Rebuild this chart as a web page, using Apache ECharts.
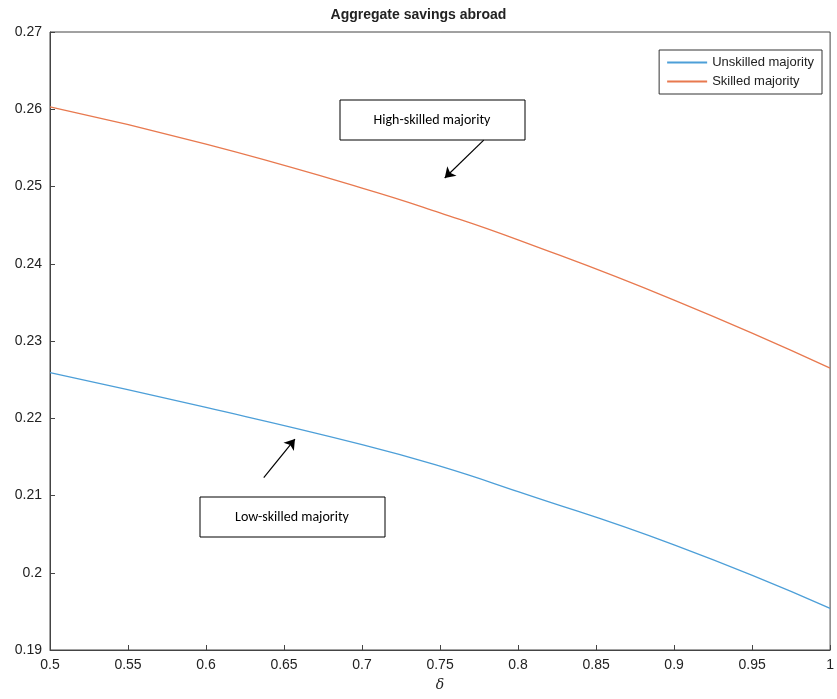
<!DOCTYPE html><html><head><meta charset="utf-8"><script src="https://cdn.jsdelivr.net/npm/echarts@6/dist/echarts.min.js"></script></head><body style="margin:0"><div id="c" style="width:837px;height:699px"></div><script>
const delta=[0.5,0.6,0.7,0.75,0.8,0.9,1.0];
const unskilled=[0.2259,0.2214,0.2166,0.2138,0.2105,0.2036,0.1954];
const skilled=[0.2603,0.2555,0.2498,0.2466,0.2431,0.2353,0.2265];
const ch=echarts.init(document.getElementById('c'));
const f='Liberation Sans';
const cB='#4d9fd8',cO='#e8794f';
ch.setOption({animation:false,
title:{text:'Aggregate savings abroad',left:'center',top:3,textStyle:{fontFamily:f,fontSize:14,fontWeight:'bold',color:'#222'}},
grid:{left:50,right:0,top:32,bottom:49,show:true,borderColor:'#444',borderWidth:1},
legend:{orient:'vertical',right:15,top:50,itemWidth:40,itemHeight:2,icon:'rect',borderColor:'#333',borderWidth:1,backgroundColor:'#fff',padding:[6,8],itemGap:6,textStyle:{fontFamily:f,fontSize:13,color:'#222'},data:['Unskilled majority','Skilled majority']},
xAxis:{type:'value',min:0.5,max:1,interval:0.05,name:'δ',nameLocation:'middle',nameGap:28,nameTextStyle:{fontFamily:'DejaVu Serif',fontStyle:'italic',fontSize:14,color:'#222'},axisLine:{lineStyle:{color:'#444'}},axisTick:{inside:true},splitLine:{show:false},axisLabel:{fontFamily:f,fontSize:14,color:'#222',formatter:v=>+v.toFixed(2)+''}},
yAxis:{type:'value',min:0.19,max:0.27,interval:0.01,axisLine:{show:true,lineStyle:{color:'#444'}},axisTick:{show:true,inside:true},splitLine:{show:false},axisLabel:{fontFamily:f,fontSize:14,color:'#222',formatter:v=>+v.toFixed(2)+''}},
series:[
{name:'Unskilled majority',type:'line',smooth:true,symbol:'none',data:delta.map((d,i)=>[d,unskilled[i]]),lineStyle:{color:cB,width:1.3},itemStyle:{color:cB},
 markLine:{symbol:['none','arrow'],symbolSize:10,silent:true,label:{show:false},lineStyle:{color:'#000',type:'solid',width:1.2},data:[[{coord:[0.637,0.2123]},{coord:[0.657,0.2173]}]]}},
{name:'Skilled majority',type:'line',smooth:true,symbol:'none',data:delta.map((d,i)=>[d,skilled[i]]),lineStyle:{color:cO,width:1.3},itemStyle:{color:cO},
 markLine:{symbol:['none','arrow'],symbolSize:10,silent:true,label:{show:false},lineStyle:{color:'#000',type:'solid',width:1.2},data:[[{coord:[0.778,0.256]},{coord:[0.753,0.2511]}]]}}
],
graphic:[
{type:'rect',shape:{x:340,y:100,width:185,height:40},style:{fill:'#fff',stroke:'#000',lineWidth:1}},
{type:'text',x:432,y:120,style:{text:'High-skilled majority',fill:'#000',font:'14px Calibri, Carlito, "Liberation Sans"',align:'center',verticalAlign:'middle'}},
{type:'rect',shape:{x:200,y:497,width:185,height:40},style:{fill:'#fff',stroke:'#000',lineWidth:1}},
{type:'text',x:292,y:517,style:{text:'Low-skilled majority',fill:'#000',font:'14px Calibri, Carlito, "Liberation Sans"',align:'center',verticalAlign:'middle'}}
]});
</script></body></html>
